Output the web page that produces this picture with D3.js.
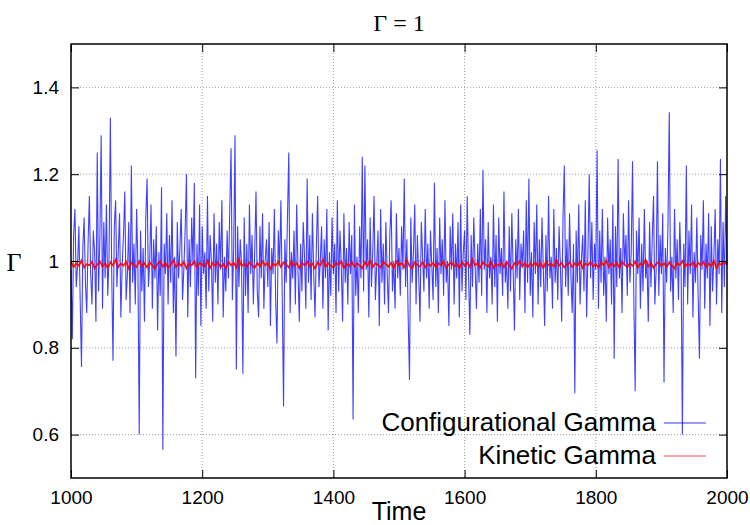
<!DOCTYPE html>
<html>
<head>
<meta charset="utf-8">
<script src="https://cdn.jsdelivr.net/npm/d3@7"></script>
<style>
  body { margin: 0; background: #fff; }
  text { font-family: "Liberation Sans", Arial, sans-serif; }
</style>
</head>
<body>
<script>
        var w = 750;
        var h = 525;
        var margin = {top: 44, right: 23, bottom: 47, left: 71};

        var xTicks = [1000, 1200, 1400, 1600, 1800, 2000];
        var yTicks = [0.6, 0.8, 1, 1.2, 1.4];
        var yTickLabels = ["0.6", "0.8", "1", "1.2", "1.4"];

        // Configurational Gamma, one value every 2 time units from 1000
        var confStart = 1000, confStep = 2;
        var confGamma = [
            0.98, 0.82, 1.06, 1.12, 0.94, 0.99, 1.08, 0.91, 0.756, 1.03,
            1.10, 0.95, 0.88, 1.04, 1.15, 0.97, 0.90, 1.07, 1.02, 0.86,
            1.25, 0.93, 1.05, 1.29, 0.89, 1.09, 0.96, 1.13, 0.92, 1.01,
            1.33, 0.98, 0.77, 1.08, 1.14, 0.94, 1.02, 1.11, 0.87, 0.99,
            1.06, 1.16, 0.91, 0.97, 1.09, 0.88, 1.22, 0.95, 1.04, 0.90,
            1.12, 0.99, 0.60, 1.07, 0.93, 1.03, 0.86, 1.10, 1.19, 0.94,
            1.00, 1.13, 0.89, 1.05, 0.96, 1.08, 0.84, 1.02, 0.92, 1.17,
            0.565, 1.04, 0.97, 1.11, 0.90, 1.06, 0.95, 1.14, 0.88, 1.01,
            0.78, 1.09, 0.96, 1.03, 1.12, 0.91, 0.98, 1.07, 1.20, 0.87,
            1.05, 0.94, 1.10, 0.99, 1.18, 0.73, 1.04, 0.92, 1.13, 0.85,
            1.08, 0.97, 1.02, 0.89, 1.15, 0.93, 1.06, 1.00, 0.86, 1.11,
            0.95, 1.04, 0.90, 1.09, 0.98, 1.14, 0.87, 1.01, 0.93, 1.07,
            0.96, 1.12, 1.26, 0.91, 1.03, 1.29, 0.75, 1.08, 0.94, 1.05,
            0.99, 0.74, 1.10, 0.92, 1.04, 0.88, 1.13, 0.97, 1.06, 0.90,
            1.02, 1.16, 0.93, 0.87, 1.08, 0.96, 1.11, 0.89, 1.00, 1.05,
            0.94, 1.09, 0.85, 1.03, 0.97, 1.12, 0.91, 0.81, 1.07, 0.99,
            1.14, 0.92, 0.665, 1.05, 0.95, 1.10, 1.25, 0.88, 1.02, 0.96,
            1.07, 0.90, 1.13, 0.98, 0.86, 1.04, 0.93, 1.09, 1.01, 0.89,
            1.19, 0.95, 1.06, 0.91, 1.11, 0.97, 0.87, 1.03, 1.15, 0.94,
            1.00, 1.08, 0.89, 1.05, 0.96, 1.12, 0.84, 1.02, 0.92, 1.10,
            0.97, 1.04, 0.88, 1.14, 0.93, 1.07, 0.99, 0.86, 1.11, 0.95,
            1.03, 0.90, 1.09, 0.97, 1.06, 0.635, 1.13, 0.92, 1.01, 0.88,
            1.08, 0.96, 1.24, 0.93, 1.22, 0.98, 1.05, 0.87, 1.10, 0.94,
            1.02, 1.15, 0.91, 0.99, 1.07, 0.85, 1.12, 0.95, 1.04, 0.90,
            1.09, 0.97, 0.88, 1.06, 1.14, 0.93, 1.00, 0.89, 1.11, 0.96,
            1.03, 0.92, 1.08, 0.98, 1.19, 0.94, 1.05, 0.87, 0.726, 1.10,
            0.95, 1.02, 1.13, 0.90, 1.06, 0.97, 0.86, 1.09, 1.01, 0.93,
            1.12, 0.96, 1.04, 0.89, 1.07, 0.99, 0.91, 1.18, 0.94, 1.03,
            0.88, 1.10, 0.97, 1.05, 0.92, 1.14, 0.95, 1.00, 0.85, 1.08,
            0.98, 1.11, 0.90, 1.04, 0.96, 1.09, 0.87, 1.13, 0.93, 1.02,
            1.07, 0.91, 1.15, 0.97, 0.83, 1.06, 0.94, 1.10, 0.99, 0.89,
            1.04, 0.95, 1.12, 0.92, 1.21, 0.98, 1.05, 0.88, 1.09, 0.96,
            1.01, 0.90, 1.13, 0.94, 1.06, 0.86, 1.10, 0.97, 1.03, 0.92,
            1.16, 0.95, 1.00, 0.89, 1.08, 0.93, 1.11, 0.98, 0.84, 1.05,
            0.96, 1.12, 0.91, 1.04, 0.99, 1.07, 0.88, 1.14, 0.95, 1.19,
            0.92, 1.02, 0.87, 1.09, 0.97, 1.13, 0.90, 1.05, 0.94, 1.10,
            0.98, 0.85, 1.06, 0.93, 1.15, 0.96, 1.01, 0.89, 1.12, 0.95,
            1.03, 0.91, 1.08, 0.99, 0.86, 1.10, 1.22, 0.94, 1.05, 0.92,
            1.11, 0.97, 0.88, 1.04, 0.695, 1.07, 0.95, 1.13, 0.90, 1.00,
            1.06, 0.93, 1.14, 0.87, 1.02, 1.20, 0.96, 1.09, 0.91, 1.04,
            0.98, 1.255, 0.89, 1.07, 0.95, 1.12, 0.92, 1.01, 0.86, 1.10,
            0.97, 1.05, 0.90, 1.13, 0.775, 1.08, 0.94, 1.235, 0.96, 1.03,
            0.88, 1.11, 0.99, 1.06, 0.92, 1.14, 0.95, 1.02, 1.23, 0.91,
            0.70, 1.07, 0.97, 1.10, 0.89, 1.04, 0.93, 1.12, 0.96, 1.00,
            0.86, 1.09, 0.94, 1.05, 1.15, 0.90, 0.98, 1.23, 0.92, 1.06,
            0.97, 1.11, 0.72, 1.03, 0.95, 1.08, 1.343, 0.93, 1.01, 0.88,
            1.12, 0.96, 1.05, 0.91, 1.09, 0.99, 0.60, 1.04, 0.94, 1.22,
            0.90, 1.07, 0.97, 1.13, 0.87, 1.02, 0.95, 1.10, 0.92, 0.775,
            1.06, 0.98, 1.14, 0.89, 1.04, 0.96, 1.11, 0.85, 1.08, 0.93,
            1.01, 1.12, 0.90, 1.05, 0.97, 1.235, 0.88, 1.09, 0.94, 1.15,
            0.99
        ];

        // Kinetic Gamma, one value every 4 time units from 1000
        var kinStart = 1000, kinStep = 4;
        var kinGamma = [
            0.997, 0.986, 0.994, 0.989, 1.001, 0.985, 0.993, 0.990, 0.998, 0.983,
            0.992, 0.999, 0.987, 0.995, 0.984, 0.997, 0.990, 1.003, 0.986, 0.994,
            0.989, 0.998, 0.983, 0.996, 0.991, 0.986, 1.000, 0.988, 0.995, 0.985,
            0.997, 0.990, 0.982, 0.994, 0.999, 0.987, 0.996, 0.984, 0.992, 1.002,
            0.986, 0.995, 0.989, 0.998, 0.983, 0.994, 0.990, 0.999, 0.985, 0.996,
            0.992, 0.987, 1.001, 0.984, 0.995, 0.989, 0.997, 0.986, 0.993, 0.983,
            0.998, 0.990, 0.996, 0.985, 1.004, 0.988, 0.994, 0.986, 0.997, 0.991,
            0.984, 0.995, 0.988, 0.999, 0.990, 0.996, 0.982, 0.994, 0.989, 0.998,
            0.986, 0.997, 0.992, 0.985, 1.000, 0.989, 0.995, 0.984, 0.996, 0.990,
            0.999, 0.987, 0.994, 0.983, 0.997, 0.990, 1.003, 0.986, 0.995, 0.989,
            0.985, 0.996, 0.991, 0.999, 0.984, 0.994, 0.988, 0.998, 0.987, 0.995,
            0.990, 0.983, 0.997, 0.989, 1.001, 0.986, 0.995, 0.991, 0.985, 0.998,
            0.993, 0.987, 0.996, 0.984, 0.999, 0.990, 0.995, 0.986, 1.002, 0.989,
            0.983, 0.997, 0.991, 0.987, 0.998, 0.985, 0.994, 0.989, 0.996, 0.986,
            0.995, 0.990, 1.000, 0.984, 0.992, 0.997, 0.987, 0.994, 0.983, 0.998,
            0.989, 0.996, 0.986, 1.004, 0.990, 0.995, 0.985, 0.997, 0.991, 0.987,
            0.999, 0.984, 0.994, 0.989, 0.996, 0.986, 0.998, 0.990, 0.982, 0.995,
            0.991, 1.000, 0.987, 0.996, 0.985, 0.994, 0.989, 0.997, 0.986, 0.995,
            0.984, 0.998, 0.990, 0.994, 0.987, 1.002, 0.989, 0.996, 0.985, 0.992,
            0.997, 0.986, 0.995, 0.989, 0.999, 0.984, 0.994, 0.990, 0.998, 0.987,
            0.993, 0.985, 0.997, 0.990, 1.001, 0.986, 0.995, 0.988, 0.996, 0.984,
            0.998, 0.991, 0.986, 0.995, 0.989, 0.999, 0.985, 0.994, 0.990, 1.003,
            0.987, 0.996, 0.984, 0.993, 0.998, 0.988, 0.995, 0.986, 0.997, 0.990,
            0.983, 0.995, 0.991, 1.000, 0.987, 0.994, 0.989, 0.997, 0.985, 0.996,
            0.990, 0.998, 0.986, 0.994, 0.988, 1.001, 0.984, 0.995, 0.991, 0.997,
            0.992
        ];

        var seriesNames = ["Configurational Gamma", "Kinetic Gamma"];
        var seriesColors = ["#0000ff", "#ff0000"];

        var svg = d3.select("body")
                    .append("svg")
                    .attr("width", w)
                    .attr("height", h);

        var x = d3.scaleLinear()
                  .domain([1000, 2000])
                  .range([margin.left, w - margin.right]);

        var y = d3.scaleLinear()
                  .domain([0.5, 1.5])
                  .range([h - margin.bottom, margin.top]);

        // dotted grid
        svg.append("g")
           .selectAll("line")
           .data(xTicks.slice(1, -1))
           .enter().append("line")
           .attr("x1", d => x(d)).attr("x2", d => x(d))
           .attr("y1", margin.top).attr("y2", h - margin.bottom)
           .attr("stroke", "#a0a0a0")
           .attr("stroke-width", 1)
           .attr("stroke-dasharray", "1,2");

        svg.append("g")
           .selectAll("line")
           .data(yTicks)
           .enter().append("line")
           .attr("x1", margin.left).attr("x2", w - margin.right)
           .attr("y1", d => y(d)).attr("y2", d => y(d))
           .attr("stroke", "#a0a0a0")
           .attr("stroke-width", 1)
           .attr("stroke-dasharray", "1,2");

        // data lines
        var confLine = d3.line()
                         .x((d, i) => x(confStart + i * confStep))
                         .y(d => y(d));

        var kinLine = d3.line()
                        .x((d, i) => x(kinStart + i * kinStep))
                        .y(d => y(d));

        svg.append("path")
           .datum(confGamma)
           .attr("d", confLine)
           .attr("fill", "none")
           .attr("stroke", seriesColors[0])
           .attr("stroke-opacity", 0.75)
           .attr("stroke-width", 1.1);

        svg.append("path")
           .datum(kinGamma)
           .attr("d", kinLine)
           .attr("fill", "none")
           .attr("stroke", seriesColors[1])
           .attr("stroke-opacity", 0.9)
           .attr("stroke-width", 1.8);

        // axes, ticks inward and mirrored
        var tickLen = 8;
        var xAxisB = d3.axisBottom(x).tickValues(xTicks).tickSize(-tickLen).tickPadding(13)
                       .tickFormat(d3.format("d"));
        var xAxisT = d3.axisTop(x).tickValues(xTicks).tickSize(-tickLen).tickFormat("");
        var yAxisL = d3.axisLeft(y).tickValues(yTicks).tickSize(-tickLen).tickPadding(12)
                       .tickFormat((d, i) => yTickLabels[i]);
        var yAxisR = d3.axisRight(y).tickValues(yTicks).tickSize(-tickLen).tickFormat("");

        function styleAxis(g) {
            g.select(".domain").remove();
            g.selectAll(".tick line").attr("stroke", "#000").attr("stroke-width", 1);
            g.selectAll(".tick text")
             .attr("fill", "#000")
             .style("font-size", "19px")
             .style("font-family", "Liberation Sans, Arial, sans-serif");
        }

        svg.append("g").attr("transform", "translate(0," + (h - margin.bottom) + ")")
           .call(xAxisB).call(styleAxis);
        svg.append("g").attr("transform", "translate(0," + margin.top + ")")
           .call(xAxisT).call(styleAxis);
        svg.append("g").attr("transform", "translate(" + margin.left + ",0)")
           .call(yAxisL).call(styleAxis);
        svg.append("g").attr("transform", "translate(" + (w - margin.right) + ",0)")
           .call(yAxisR).call(styleAxis);

        // frame
        svg.append("rect")
           .attr("x", margin.left).attr("y", margin.top)
           .attr("width", w - margin.left - margin.right)
           .attr("height", h - margin.top - margin.bottom)
           .attr("fill", "none")
           .attr("stroke", "#000")
           .attr("stroke-width", 1.5);

        // title and axis labels
        svg.append("text")
           .attr("x", (margin.left + w - margin.right) / 2)
           .attr("y", 31)
           .attr("text-anchor", "middle")
           .style("font-family", "Liberation Serif, serif")
           .style("font-size", "24px")
           .text("Γ = 1");

        svg.append("text")
           .attr("x", 14)
           .attr("y", 271)
           .attr("text-anchor", "middle")
           .style("font-family", "Liberation Serif, serif")
           .style("font-size", "26px")
           .text("Γ");

        svg.append("text")
           .attr("x", (margin.left + w - margin.right) / 2)
           .attr("y", 520)
           .attr("text-anchor", "middle")
           .style("font-size", "25px")
           .text("Time");

        // legend
        var legendY = [423, 456];
        var legend = svg.append("g")
                        .selectAll("g")
                        .data(seriesNames)
                        .enter().append("g");

        legend.append("text")
              .attr("x", 656)
              .attr("y", (d, i) => legendY[i] + 8)
              .attr("text-anchor", "end")
              .style("font-size", "26px")
              .text(d => d);

        legend.append("line")
              .attr("x1", 664).attr("x2", 706)
              .attr("y1", (d, i) => legendY[i]).attr("y2", (d, i) => legendY[i])
              .attr("stroke", (d, i) => seriesColors[i])
              .attr("stroke-opacity", (d, i) => i === 0 ? 0.8 : 0.7)
              .attr("stroke-width", 1);
</script>
</body>
</html>
